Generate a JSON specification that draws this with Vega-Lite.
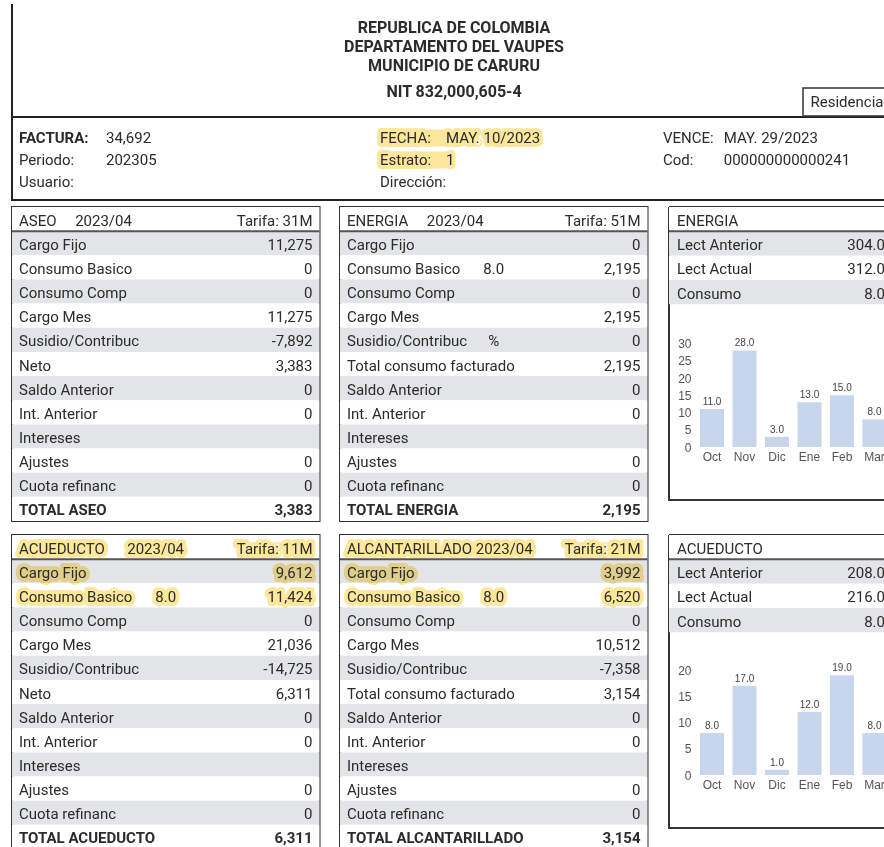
{
  "$schema": "https://vega.github.io/schema/vega-lite/v6.json",
  "padding": {"left": 10, "top": 3, "right": 0, "bottom": 0},
  "background": "white",
  "config": {
    "view": {"stroke": "#333333", "strokeWidth": 2},
    "text": {"font": "Roboto", "fontSize": 15, "color": "#2b2b2b", "baseline": "middle"},
    "axis": {"labelFont": "Liberation Sans Narrow, Liberation Sans, sans-serif"},
    "header": {"labels": false, "title": null},
    "headerColumn": {"labels": false, "title": null},
    "headerFacet": {"labels": false, "title": null},
    "locale": {"number": {"decimal": ".", "thousands": ",", "grouping": [3], "currency": ["$", ""], "minus": "-"}}
  },
  "datasets": {
    "encabezado": [
      {"parte": "titulo", "texto": "REPUBLICA DE COLOMBIA"},
      {"parte": "titulo", "texto": "DEPARTAMENTO DEL VAUPES"},
      {"parte": "titulo", "texto": "MUNICIPIO DE CARURU"},
      {"parte": "nit", "texto": "NIT 832,000,605-4"},
      {"parte": "tipo", "texto": "Residencia"}
    ],
    "datos_factura": [
      {"bloque": "A", "fila": 1, "etiqueta": "FACTURA:", "valor": "34,692"},
      {"bloque": "A", "fila": 2, "etiqueta": "Periodo:", "valor": "202305"},
      {"bloque": "A", "fila": 3, "etiqueta": "Usuario:", "valor": null},
      {"bloque": "B", "fila": 1, "etiqueta": "FECHA:", "valor": "MAY. 10/2023"},
      {"bloque": "B", "fila": 2, "etiqueta": "Estrato:", "valor": "1"},
      {"bloque": "B", "fila": 3, "etiqueta": "Dirección:", "valor": null},
      {"bloque": "C", "fila": 1, "etiqueta": "VENCE:", "valor": "MAY. 29/2023"},
      {"bloque": "C", "fila": 2, "etiqueta": "Cod:", "valor": "000000000000241"}
    ],
    "facturacion": [
      {"servicio": "ASEO", "linea": 0, "concepto": "ASEO\u00a0\u00a0\u00a0\u00a0\u00a02023/04", "tarifa": "Tarifa: 31M"},
      {"servicio": "ASEO", "linea": 1, "concepto": "Cargo Fijo", "valor": 11275},
      {"servicio": "ASEO", "linea": 2, "concepto": "Consumo Basico", "valor": 0},
      {"servicio": "ASEO", "linea": 3, "concepto": "Consumo Comp", "valor": 0},
      {"servicio": "ASEO", "linea": 4, "concepto": "Cargo Mes", "valor": 11275},
      {"servicio": "ASEO", "linea": 5, "concepto": "Susidio/Contribuc", "valor": -7892},
      {"servicio": "ASEO", "linea": 6, "concepto": "Neto", "valor": 3383},
      {"servicio": "ASEO", "linea": 7, "concepto": "Saldo Anterior", "valor": 0},
      {"servicio": "ASEO", "linea": 8, "concepto": "Int. Anterior", "valor": 0},
      {"servicio": "ASEO", "linea": 9, "concepto": "Intereses"},
      {"servicio": "ASEO", "linea": 10, "concepto": "Ajustes", "valor": 0},
      {"servicio": "ASEO", "linea": 11, "concepto": "Cuota refinanc", "valor": 0},
      {"servicio": "ASEO", "linea": 12, "concepto": "TOTAL ASEO", "valor": 3383},
      {"servicio": "ENERGIA", "linea": 0, "concepto": "ENERGIA\u00a0\u00a0\u00a0\u00a0\u00a02023/04", "tarifa": "Tarifa: 51M"},
      {"servicio": "ENERGIA", "linea": 1, "concepto": "Cargo Fijo", "valor": 0},
      {"servicio": "ENERGIA", "linea": 2, "concepto": "Consumo Basico", "cantidad": "8.0", "valor": 2195},
      {"servicio": "ENERGIA", "linea": 3, "concepto": "Consumo Comp", "valor": 0},
      {"servicio": "ENERGIA", "linea": 4, "concepto": "Cargo Mes", "valor": 2195},
      {"servicio": "ENERGIA", "linea": 5, "concepto": "Susidio/Contribuc", "cantidad": "%", "valor": 0},
      {"servicio": "ENERGIA", "linea": 6, "concepto": "Total consumo facturado", "valor": 2195},
      {"servicio": "ENERGIA", "linea": 7, "concepto": "Saldo Anterior", "valor": 0},
      {"servicio": "ENERGIA", "linea": 8, "concepto": "Int. Anterior", "valor": 0},
      {"servicio": "ENERGIA", "linea": 9, "concepto": "Intereses"},
      {"servicio": "ENERGIA", "linea": 10, "concepto": "Ajustes", "valor": 0},
      {"servicio": "ENERGIA", "linea": 11, "concepto": "Cuota refinanc", "valor": 0},
      {"servicio": "ENERGIA", "linea": 12, "concepto": "TOTAL ENERGIA", "valor": 2195},
      {"servicio": "ACUEDUCTO", "linea": 0, "concepto": "ACUEDUCTO\u00a0\u00a0\u00a0\u00a0\u00a0\u00a02023/04", "tarifa": "Tarifa: 11M"},
      {"servicio": "ACUEDUCTO", "linea": 1, "concepto": "Cargo Fijo", "valor": 9612},
      {"servicio": "ACUEDUCTO", "linea": 2, "concepto": "Consumo Basico", "cantidad": "8.0", "valor": 11424},
      {"servicio": "ACUEDUCTO", "linea": 3, "concepto": "Consumo Comp", "valor": 0},
      {"servicio": "ACUEDUCTO", "linea": 4, "concepto": "Cargo Mes", "valor": 21036},
      {"servicio": "ACUEDUCTO", "linea": 5, "concepto": "Susidio/Contribuc", "valor": -14725},
      {"servicio": "ACUEDUCTO", "linea": 6, "concepto": "Neto", "valor": 6311},
      {"servicio": "ACUEDUCTO", "linea": 7, "concepto": "Saldo Anterior", "valor": 0},
      {"servicio": "ACUEDUCTO", "linea": 8, "concepto": "Int. Anterior", "valor": 0},
      {"servicio": "ACUEDUCTO", "linea": 9, "concepto": "Intereses"},
      {"servicio": "ACUEDUCTO", "linea": 10, "concepto": "Ajustes", "valor": 0},
      {"servicio": "ACUEDUCTO", "linea": 11, "concepto": "Cuota refinanc", "valor": 0},
      {"servicio": "ACUEDUCTO", "linea": 12, "concepto": "TOTAL ACUEDUCTO", "valor": 6311},
      {"servicio": "ALCANTARILLADO", "linea": 0, "concepto": "ALCANTARILLADO 2023/04", "tarifa": "Tarifa: 21M"},
      {"servicio": "ALCANTARILLADO", "linea": 1, "concepto": "Cargo Fijo", "valor": 3992},
      {"servicio": "ALCANTARILLADO", "linea": 2, "concepto": "Consumo Basico", "cantidad": "8.0", "valor": 6520},
      {"servicio": "ALCANTARILLADO", "linea": 3, "concepto": "Consumo Comp", "valor": 0},
      {"servicio": "ALCANTARILLADO", "linea": 4, "concepto": "Cargo Mes", "valor": 10512},
      {"servicio": "ALCANTARILLADO", "linea": 5, "concepto": "Susidio/Contribuc", "valor": -7358},
      {"servicio": "ALCANTARILLADO", "linea": 6, "concepto": "Total consumo facturado", "valor": 3154},
      {"servicio": "ALCANTARILLADO", "linea": 7, "concepto": "Saldo Anterior", "valor": 0},
      {"servicio": "ALCANTARILLADO", "linea": 8, "concepto": "Int. Anterior", "valor": 0},
      {"servicio": "ALCANTARILLADO", "linea": 9, "concepto": "Intereses"},
      {"servicio": "ALCANTARILLADO", "linea": 10, "concepto": "Ajustes", "valor": 0},
      {"servicio": "ALCANTARILLADO", "linea": 11, "concepto": "Cuota refinanc", "valor": 0},
      {"servicio": "ALCANTARILLADO", "linea": 12, "concepto": "TOTAL ALCANTARILLADO", "valor": 3154}
    ],
    "lecturas": [
      {"servicio": "ENERGIA", "linea": 0, "concepto": "ENERGIA"},
      {"servicio": "ENERGIA", "linea": 1, "concepto": "Lect Anterior", "valor": 304},
      {"servicio": "ENERGIA", "linea": 2, "concepto": "Lect Actual", "valor": 312},
      {"servicio": "ENERGIA", "linea": 3, "concepto": "Consumo", "valor": 8},
      {"servicio": "ACUEDUCTO", "linea": 0, "concepto": "ACUEDUCTO"},
      {"servicio": "ACUEDUCTO", "linea": 1, "concepto": "Lect Anterior", "valor": 208},
      {"servicio": "ACUEDUCTO", "linea": 2, "concepto": "Lect Actual", "valor": 216},
      {"servicio": "ACUEDUCTO", "linea": 3, "concepto": "Consumo", "valor": 8}
    ],
    "historico": [
      {"servicio": "ENERGIA", "mes": "Oct", "consumo": 11},
      {"servicio": "ENERGIA", "mes": "Nov", "consumo": 28},
      {"servicio": "ENERGIA", "mes": "Dic", "consumo": 3},
      {"servicio": "ENERGIA", "mes": "Ene", "consumo": 13},
      {"servicio": "ENERGIA", "mes": "Feb", "consumo": 15},
      {"servicio": "ENERGIA", "mes": "Mar", "consumo": 8},
      {"servicio": "ACUEDUCTO", "mes": "Oct", "consumo": 8},
      {"servicio": "ACUEDUCTO", "mes": "Nov", "consumo": 17},
      {"servicio": "ACUEDUCTO", "mes": "Dic", "consumo": 1},
      {"servicio": "ACUEDUCTO", "mes": "Ene", "consumo": 12},
      {"servicio": "ACUEDUCTO", "mes": "Feb", "consumo": 19},
      {"servicio": "ACUEDUCTO", "mes": "Mar", "consumo": 8}
    ]
  },
  "bounds": "full",
  "spacing": 5,
  "vconcat": [
    {
      "bounds": "flush",
      "spacing": 0,
      "vconcat": [
        {
          "width": 873,
          "height": 113,
          "view": {"stroke": "#222222", "strokeWidth": 2, "strokeDash": [0, 986, 986, 0]},
          "data": {"name": "encabezado"},
          "resolve": {"scale": {"x": "independent", "y": "independent"}},
          "layer": [
            {
              "transform": [{"filter": "datum.parte == 'titulo'"}],
              "mark": {"type": "text", "fontWeight": "bold", "align": "center", "fontSize": 16},
              "encoding": {
                "x": {"field": "parte", "type": "nominal", "scale": {"type": "band", "range": [0, 884]}, "axis": null},
                "y": {"field": "texto", "type": "nominal", "sort": null, "scale": {"type": "point", "range": [24.3, 62.3], "padding": 0}, "axis": null},
                "text": {"field": "texto"}
              }
            },
            {
              "transform": [{"filter": "datum.parte == 'nit'"}],
              "mark": {"type": "text", "fontWeight": "bold", "align": "center", "fontSize": 16},
              "encoding": {
                "x": {"field": "parte", "type": "nominal", "scale": {"type": "band", "range": [0, 884]}, "axis": null},
                "y": {"field": "parte", "type": "nominal", "scale": {"type": "band", "range": [76.3, 100.3], "paddingInner": 0, "paddingOuter": 0}, "axis": null},
                "text": {"field": "texto"}
              }
            },
            {
              "transform": [{"filter": "datum.parte == 'tipo'"}],
              "mark": {"type": "rect", "fillOpacity": 0, "stroke": "#333333", "strokeWidth": 1.5, "clip": true},
              "encoding": {
                "x": {"field": "parte", "type": "nominal", "scale": {"type": "band", "range": [791, 879], "paddingInner": 0, "paddingOuter": 0}, "axis": null},
                "y": {"field": "parte", "type": "nominal", "scale": {"type": "band", "range": [84, 112], "paddingInner": 0, "paddingOuter": 0}, "axis": null}
              }
            },
            {
              "transform": [{"filter": "datum.parte == 'tipo'"}],
              "mark": {"type": "text", "align": "center", "clip": true},
              "encoding": {
                "x": {"field": "parte", "type": "nominal", "scale": {"type": "band", "range": [791, 879], "paddingInner": 0, "paddingOuter": 0}, "axis": null},
                "y": {"field": "parte", "type": "nominal", "scale": {"type": "band", "range": [84, 112], "paddingInner": 0, "paddingOuter": 0}, "axis": null},
                "text": {"field": "texto"}
              }
            }
          ]
        },
        {
          "bounds": "flush",
          "spacing": 0,
          "hconcat": [
            {
              "width": 361,
              "height": 83,
              "view": {"stroke": "#222222", "strokeWidth": 2, "strokeDash": [0, 444, 444, 0]},
              "data": {"name": "datos_factura"},
              "transform": [{"filter": "datum.bloque == 'A'"}],
              "encoding": {
                "y": {"field": "fila", "type": "ordinal", "scale": {"type": "point", "domain": [1, 2, 3], "range": [21, 65], "padding": 0}, "axis": null}
              },
              "layer": [
                {
                  "transform": [{"filter": "datum.etiqueta == 'FACTURA:'"}],
                  "mark": {"type": "text", "align": "left", "fontWeight": "bold"},
                  "encoding": {
                    "x": {"datum": "etiqueta", "type": "nominal", "scale": {"type": "point", "domain": ["etiqueta", "valor"], "range": [7, 94], "padding": 0}, "axis": null},
                    "text": {"field": "etiqueta"}
                  }
                },
                {
                  "transform": [{"filter": "datum.etiqueta != 'FACTURA:'"}],
                  "mark": {"type": "text", "align": "left"},
                  "encoding": {
                    "x": {"datum": "etiqueta", "type": "nominal", "scale": {"type": "point", "domain": ["etiqueta", "valor"], "range": [7, 94], "padding": 0}, "axis": null},
                    "text": {"field": "etiqueta"}
                  }
                },
                {
                  "transform": [{"filter": "isValid(datum.valor)"}],
                  "mark": {"type": "text", "align": "left"},
                  "encoding": {
                    "x": {"datum": "valor", "type": "nominal", "scale": {"type": "point", "domain": ["etiqueta", "valor"], "range": [7, 94], "padding": 0}, "axis": null},
                    "text": {"field": "valor"}
                  }
                }
              ]
            },
            {
              "width": 283,
              "height": 83,
              "view": {"stroke": "#222222", "strokeWidth": 2, "strokeDash": [0, 366, 283, 83]},
              "data": {"name": "datos_factura"},
              "transform": [{"filter": "datum.bloque == 'B'"}],
              "encoding": {
                "y": {"field": "fila", "type": "ordinal", "scale": {"type": "point", "domain": [1, 2, 3], "range": [21, 65], "padding": 0}, "axis": null}
              },
              "layer": [
                {
                  "transform": [{"filter": "isValid(datum.valor)"}],
                  "mark": {"type": "rule", "color": "#fbe69c", "strokeWidth": 17, "strokeCap": "butt"},
                  "encoding": {
                    "x": {"datum": "etiqueta", "type": "nominal", "scale": {"type": "point", "domain": ["etiqueta", "valor"], "range": [7, 73], "padding": 0}, "axis": null},
                    "x2": {"datum": "valor"}
                  }
                },
                {
                  "transform": [{"filter": "isValid(datum.valor)"}],
                  "mark": {"type": "text", "align": "left", "fill": "#fbe69c", "stroke": "#fbe69c", "strokeWidth": 8, "strokeJoin": "round", "strokeCap": "round"},
                  "encoding": {
                    "x": {"datum": "etiqueta", "type": "nominal", "scale": {"type": "point", "domain": ["etiqueta", "valor"], "range": [7, 73], "padding": 0}, "axis": null},
                    "text": {"field": "etiqueta"}
                  }
                },
                {
                  "transform": [{"filter": "isValid(datum.valor)"}],
                  "mark": {"type": "text", "align": "left", "fill": "#fbe69c", "stroke": "#fbe69c", "strokeWidth": 8, "strokeJoin": "round", "strokeCap": "round"},
                  "encoding": {
                    "x": {"datum": "valor", "type": "nominal", "scale": {"type": "point", "domain": ["etiqueta", "valor"], "range": [7, 73], "padding": 0}, "axis": null},
                    "text": {"field": "valor"}
                  }
                },
                {
                  "mark": {"type": "text", "align": "left"},
                  "encoding": {
                    "x": {"datum": "etiqueta", "type": "nominal", "scale": {"type": "point", "domain": ["etiqueta", "valor"], "range": [7, 73], "padding": 0}, "axis": null},
                    "text": {"field": "etiqueta"}
                  }
                },
                {
                  "transform": [{"filter": "isValid(datum.valor)"}],
                  "mark": {"type": "text", "align": "left"},
                  "encoding": {
                    "x": {"datum": "valor", "type": "nominal", "scale": {"type": "point", "domain": ["etiqueta", "valor"], "range": [7, 73], "padding": 0}, "axis": null},
                    "text": {"field": "valor"}
                  }
                }
              ]
            },
            {
              "width": 229,
              "height": 83,
              "view": {"stroke": "#222222", "strokeWidth": 2, "strokeDash": [0, 312, 229, 83]},
              "data": {"name": "datos_factura"},
              "transform": [{"filter": "datum.bloque == 'C'"}],
              "encoding": {
                "y": {"field": "fila", "type": "ordinal", "scale": {"type": "point", "domain": [1, 2, 3], "range": [21, 65], "padding": 0}, "axis": null}
              },
              "layer": [
                {
                  "mark": {"type": "text", "align": "left"},
                  "encoding": {
                    "x": {"datum": "etiqueta", "type": "nominal", "scale": {"type": "point", "domain": ["etiqueta", "valor"], "range": [7, 67.7], "padding": 0}, "axis": null},
                    "text": {"field": "etiqueta"}
                  }
                },
                {
                  "transform": [{"filter": "isValid(datum.valor)"}],
                  "mark": {"type": "text", "align": "left"},
                  "encoding": {
                    "x": {"datum": "valor", "type": "nominal", "scale": {"type": "point", "domain": ["etiqueta", "valor"], "range": [7, 67.7], "padding": 0}, "axis": null},
                    "text": {"field": "valor"}
                  }
                }
              ]
            }
          ]
        }
      ]
    },
    {
      "bounds": "full",
      "spacing": 18,
      "hconcat": [
        {
          "bounds": "full",
          "spacing": 12,
          "vconcat": [
            {
              "data": {"name": "facturacion"},
              "transform": [{"filter": "datum.servicio == 'ASEO' || datum.servicio == 'ENERGIA'"}],
              "facet": {"column": {"field": "servicio", "type": "nominal", "sort": ["ASEO", "ENERGIA"], "header": null}},
              "spacing": {"column": 20},
              "bounds": "flush",
              "spec": {
                "width": 307.5,
                "height": 314,
                "encoding": {
                  "y": {"field": "linea", "type": "ordinal", "scale": {"type": "band", "domain": [0, 1, 2, 3, 4, 5, 6, 7, 8, 9, 10, 11, 12], "paddingInner": 0, "paddingOuter": 0}, "axis": null}
                },
                "layer": [
                  {
                    "mark": {"type": "rect"},
                    "encoding": {"fill": {"condition": {"test": "datum.linea % 2 == 1", "value": "#e3e4e6"}, "value": "#ffffff"}}
                  },
                  {
                    "transform": [{"filter": "datum.linea == 0"}],
                    "mark": {"type": "rule", "color": "#555555", "strokeWidth": 2},
                    "encoding": {"y": {"field": "linea", "type": "ordinal", "bandPosition": 1, "scale": {"type": "band", "domain": [0, 1, 2, 3, 4, 5, 6, 7, 8, 9, 10, 11, 12], "paddingInner": 0, "paddingOuter": 0}, "axis": null}}
                  },
                  {
                    "transform": [{"filter": "datum.linea < 12"}],
                    "mark": {"type": "text", "align": "left", "dy": 1.5},
                    "encoding": {
                      "x": {"datum": "concepto", "type": "nominal", "scale": {"type": "point", "domain": ["concepto", "cantidad", "valor"], "range": [7, 300.5], "padding": 0}, "axis": null},
                      "text": {"field": "concepto"}
                    }
                  },
                  {
                    "transform": [{"filter": "datum.linea == 12"}],
                    "mark": {"type": "text", "align": "left", "dy": 1.5, "fontWeight": "bold"},
                    "encoding": {
                      "x": {"datum": "concepto", "type": "nominal", "scale": {"type": "point", "domain": ["concepto", "cantidad", "valor"], "range": [7, 300.5], "padding": 0}, "axis": null},
                      "text": {"field": "concepto"}
                    }
                  },
                  {
                    "transform": [{"filter": "isValid(datum.cantidad)"}],
                    "mark": {"type": "text", "align": "center", "dy": 1.5},
                    "encoding": {
                      "x": {"datum": "cantidad", "type": "nominal", "scale": {"type": "point", "domain": ["concepto", "cantidad", "valor"], "range": [7, 300.5], "padding": 0}, "axis": null},
                      "text": {"field": "cantidad"}
                    }
                  },
                  {
                    "transform": [{"filter": "isValid(datum.valor) && datum.linea < 12"}],
                    "mark": {"type": "text", "align": "right", "dy": 1.5},
                    "encoding": {
                      "x": {"datum": "valor", "type": "nominal", "scale": {"type": "point", "domain": ["concepto", "cantidad", "valor"], "range": [7, 300.5], "padding": 0}, "axis": null},
                      "text": {"field": "valor", "type": "quantitative", "format": ","}
                    }
                  },
                  {
                    "transform": [{"filter": "isValid(datum.valor) && datum.linea == 12"}],
                    "mark": {"type": "text", "align": "right", "dy": 1.5, "fontWeight": "bold"},
                    "encoding": {
                      "x": {"datum": "valor", "type": "nominal", "scale": {"type": "point", "domain": ["concepto", "cantidad", "valor"], "range": [7, 300.5], "padding": 0}, "axis": null},
                      "text": {"field": "valor", "type": "quantitative", "format": ","}
                    }
                  },
                  {
                    "transform": [{"filter": "isValid(datum.tarifa)"}],
                    "mark": {"type": "text", "align": "right", "dy": 1.5},
                    "encoding": {
                      "x": {"datum": "valor", "type": "nominal", "scale": {"type": "point", "domain": ["concepto", "cantidad", "valor"], "range": [7, 300.5], "padding": 0}, "axis": null},
                      "text": {"field": "tarifa"}
                    }
                  }
                ]
              }
            },
            {
              "data": {"name": "facturacion"},
              "transform": [{"filter": "datum.servicio == 'ACUEDUCTO' || datum.servicio == 'ALCANTARILLADO'"}],
              "facet": {"column": {"field": "servicio", "type": "nominal", "sort": ["ACUEDUCTO", "ALCANTARILLADO"], "header": null}},
              "spacing": {"column": 20},
              "bounds": "flush",
              "spec": {
                "width": 307.5,
                "height": 314,
                "encoding": {
                  "y": {"field": "linea", "type": "ordinal", "scale": {"type": "band", "domain": [0, 1, 2, 3, 4, 5, 6, 7, 8, 9, 10, 11, 12], "paddingInner": 0, "paddingOuter": 0}, "axis": null}
                },
                "layer": [
                  {
                    "mark": {"type": "rect"},
                    "encoding": {"fill": {"condition": {"test": "datum.linea % 2 == 1", "value": "#e3e4e6"}, "value": "#ffffff"}}
                  },
                  {
                    "transform": [{"filter": "datum.linea == 0"}],
                    "mark": {"type": "rule", "color": "#555555", "strokeWidth": 2},
                    "encoding": {"y": {"field": "linea", "type": "ordinal", "bandPosition": 1, "scale": {"type": "band", "domain": [0, 1, 2, 3, 4, 5, 6, 7, 8, 9, 10, 11, 12], "paddingInner": 0, "paddingOuter": 0}, "axis": null}}
                  },
                  {
                    "transform": [{"filter": "datum.linea <= 2"}],
                    "mark": {"type": "text", "align": "left", "dy": 1.5, "fill": "#fce79a", "stroke": "#fce79a", "strokeWidth": 8, "strokeJoin": "round", "strokeCap": "round", "blend": "multiply"},
                    "encoding": {
                      "x": {"datum": "concepto", "type": "nominal", "scale": {"type": "point", "domain": ["concepto", "cantidad", "valor"], "range": [7, 300.5], "padding": 0}, "axis": null},
                      "text": {"field": "concepto"}
                    }
                  },
                  {
                    "transform": [{"filter": "datum.linea <= 2 && isValid(datum.cantidad)"}],
                    "mark": {"type": "text", "align": "center", "dy": 1.5, "fill": "#fce79a", "stroke": "#fce79a", "strokeWidth": 8, "strokeJoin": "round", "strokeCap": "round", "blend": "multiply"},
                    "encoding": {
                      "x": {"datum": "cantidad", "type": "nominal", "scale": {"type": "point", "domain": ["concepto", "cantidad", "valor"], "range": [7, 300.5], "padding": 0}, "axis": null},
                      "text": {"field": "cantidad"}
                    }
                  },
                  {
                    "transform": [{"filter": "datum.linea <= 2 && isValid(datum.valor)"}],
                    "mark": {"type": "text", "align": "right", "dy": 1.5, "fill": "#fce79a", "stroke": "#fce79a", "strokeWidth": 8, "strokeJoin": "round", "strokeCap": "round", "blend": "multiply"},
                    "encoding": {
                      "x": {"datum": "valor", "type": "nominal", "scale": {"type": "point", "domain": ["concepto", "cantidad", "valor"], "range": [7, 300.5], "padding": 0}, "axis": null},
                      "text": {"field": "valor", "type": "quantitative", "format": ","}
                    }
                  },
                  {
                    "transform": [{"filter": "isValid(datum.tarifa)"}],
                    "mark": {"type": "text", "align": "right", "dy": 1.5, "fill": "#fce79a", "stroke": "#fce79a", "strokeWidth": 8, "strokeJoin": "round", "strokeCap": "round", "blend": "multiply"},
                    "encoding": {
                      "x": {"datum": "valor", "type": "nominal", "scale": {"type": "point", "domain": ["concepto", "cantidad", "valor"], "range": [7, 300.5], "padding": 0}, "axis": null},
                      "text": {"field": "tarifa"}
                    }
                  },
                  {
                    "transform": [{"filter": "datum.linea < 12"}],
                    "mark": {"type": "text", "align": "left", "dy": 1.5},
                    "encoding": {
                      "x": {"datum": "concepto", "type": "nominal", "scale": {"type": "point", "domain": ["concepto", "cantidad", "valor"], "range": [7, 300.5], "padding": 0}, "axis": null},
                      "text": {"field": "concepto"}
                    }
                  },
                  {
                    "transform": [{"filter": "datum.linea == 12"}],
                    "mark": {"type": "text", "align": "left", "dy": 1.5, "fontWeight": "bold"},
                    "encoding": {
                      "x": {"datum": "concepto", "type": "nominal", "scale": {"type": "point", "domain": ["concepto", "cantidad", "valor"], "range": [7, 300.5], "padding": 0}, "axis": null},
                      "text": {"field": "concepto"}
                    }
                  },
                  {
                    "transform": [{"filter": "isValid(datum.cantidad)"}],
                    "mark": {"type": "text", "align": "center", "dy": 1.5},
                    "encoding": {
                      "x": {"datum": "cantidad", "type": "nominal", "scale": {"type": "point", "domain": ["concepto", "cantidad", "valor"], "range": [7, 300.5], "padding": 0}, "axis": null},
                      "text": {"field": "cantidad"}
                    }
                  },
                  {
                    "transform": [{"filter": "isValid(datum.valor) && datum.linea < 12"}],
                    "mark": {"type": "text", "align": "right", "dy": 1.5},
                    "encoding": {
                      "x": {"datum": "valor", "type": "nominal", "scale": {"type": "point", "domain": ["concepto", "cantidad", "valor"], "range": [7, 300.5], "padding": 0}, "axis": null},
                      "text": {"field": "valor", "type": "quantitative", "format": ","}
                    }
                  },
                  {
                    "transform": [{"filter": "isValid(datum.valor) && datum.linea == 12"}],
                    "mark": {"type": "text", "align": "right", "dy": 1.5, "fontWeight": "bold"},
                    "encoding": {
                      "x": {"datum": "valor", "type": "nominal", "scale": {"type": "point", "domain": ["concepto", "cantidad", "valor"], "range": [7, 300.5], "padding": 0}, "axis": null},
                      "text": {"field": "valor", "type": "quantitative", "format": ","}
                    }
                  },
                  {
                    "transform": [{"filter": "isValid(datum.tarifa)"}],
                    "mark": {"type": "text", "align": "right", "dy": 1.5},
                    "encoding": {
                      "x": {"datum": "valor", "type": "nominal", "scale": {"type": "point", "domain": ["concepto", "cantidad", "valor"], "range": [7, 300.5], "padding": 0}, "axis": null},
                      "text": {"field": "tarifa"}
                    }
                  }
                ]
              }
            }
          ]
        },
        {
          "bounds": "flush",
          "spacing": 35,
          "vconcat": [
            {
              "width": 218,
              "height": 293,
              "view": {"stroke": "#333333", "strokeWidth": 2, "strokeDash": [218, 293, 511, 0]},
              "resolve": {"scale": {"x": "independent", "y": "independent"}},
              "layer": [
                {
                  "data": {"name": "lecturas"},
                  "transform": [{"filter": "datum.servicio == 'ENERGIA'"}],
                  "mark": {"type": "rect", "clip": true},
                  "encoding": {
                    "y": {"field": "linea", "type": "ordinal", "scale": {"type": "band", "domain": [0, 1, 2, 3], "range": [0, 97.3], "paddingInner": 0, "paddingOuter": 0}, "axis": null},
                    "fill": {"condition": {"test": "datum.linea % 2 == 1", "value": "#e3e4e6"}, "value": "#ffffff"}
                  }
                },
                {
                  "data": {"name": "lecturas"},
                  "transform": [{"filter": "datum.servicio == 'ENERGIA' && datum.linea == 0"}],
                  "mark": {"type": "rule", "color": "#555555", "strokeWidth": 2, "clip": true},
                  "encoding": {
                    "y": {"field": "linea", "type": "ordinal", "bandPosition": 1, "scale": {"type": "band", "domain": [0, 1, 2, 3], "range": [0, 97.3], "paddingInner": 0, "paddingOuter": 0}, "axis": null}
                  }
                },
                {
                  "data": {"name": "lecturas"},
                  "transform": [{"filter": "datum.servicio == 'ENERGIA'"}],
                  "mark": {"type": "text", "align": "left", "dy": 1.5},
                  "encoding": {
                    "x": {"datum": "etiqueta", "type": "nominal", "scale": {"type": "point", "domain": ["etiqueta", "valor"], "range": [8, 216], "padding": 0}, "axis": null},
                    "y": {"field": "linea", "type": "ordinal", "scale": {"type": "band", "domain": [0, 1, 2, 3], "range": [0, 97.3], "paddingInner": 0, "paddingOuter": 0}, "axis": null},
                    "text": {"field": "concepto"}
                  }
                },
                {
                  "data": {"name": "lecturas"},
                  "transform": [{"filter": "datum.servicio == 'ENERGIA' && isValid(datum.valor)"}],
                  "mark": {"type": "text", "align": "right", "dy": 1.5, "clip": true},
                  "encoding": {
                    "x": {"datum": "valor", "type": "nominal", "scale": {"type": "point", "domain": ["etiqueta", "valor"], "range": [8, 216], "padding": 0}, "axis": null},
                    "y": {"field": "linea", "type": "ordinal", "scale": {"type": "band", "domain": [0, 1, 2, 3], "range": [0, 97.3], "paddingInner": 0, "paddingOuter": 0}, "axis": null},
                    "text": {"field": "valor", "type": "quantitative", "format": ".1f"}
                  }
                },
                {
                  "data": {"name": "historico"},
                  "transform": [{"filter": "datum.servicio == 'ENERGIA'"}],
                  "mark": {"type": "bar", "color": "#c8d6ed", "clip": true},
                  "encoding": {
                    "x": {"field": "mes", "type": "nominal", "sort": null, "scale": {"type": "band", "domain": ["Oct", "Nov", "Dic", "Ene", "Feb", "Mar"], "range": [26.75, 221.75], "paddingInner": 0.26, "paddingOuter": 0.13}, "axis": {"orient": "bottom", "labelAngle": 0, "offset": -53, "domain": false, "ticks": false, "grid": false, "labelPadding": 4, "labelFontSize": 12, "labelColor": "#555555", "title": null}},
                    "y": {"field": "consumo", "type": "quantitative", "scale": {"domain": [0, 30], "range": [240, 136.5], "nice": false}, "axis": {"orient": "left", "values": [0, 5, 10, 15, 20, 25, 30], "offset": -24, "domain": false, "ticks": false, "grid": false, "labelPadding": 2, "labelFontSize": 12, "labelColor": "#555555", "title": null}}
                  }
                },
                {
                  "data": {"name": "historico"},
                  "transform": [{"filter": "datum.servicio == 'ENERGIA'"}],
                  "mark": {"type": "text", "baseline": "bottom", "dy": -2, "fontSize": 10, "font": "Liberation Sans Narrow, Liberation Sans, sans-serif", "color": "#444444"},
                  "encoding": {
                    "x": {"field": "mes", "type": "nominal", "sort": null, "scale": {"type": "band", "domain": ["Oct", "Nov", "Dic", "Ene", "Feb", "Mar"], "range": [26.75, 221.75], "paddingInner": 0.26, "paddingOuter": 0.13}, "axis": null},
                    "y": {"field": "consumo", "type": "quantitative", "scale": {"domain": [0, 30], "range": [240, 136.5], "nice": false}, "axis": null},
                    "text": {"field": "consumo", "type": "quantitative", "format": ".1f"}
                  }
                }
              ]
            },
            {
              "width": 218,
              "height": 293,
              "view": {"stroke": "#333333", "strokeWidth": 2, "strokeDash": [218, 293, 511, 0]},
              "resolve": {"scale": {"x": "independent", "y": "independent"}},
              "layer": [
                {
                  "data": {"name": "lecturas"},
                  "transform": [{"filter": "datum.servicio == 'ACUEDUCTO'"}],
                  "mark": {"type": "rect", "clip": true},
                  "encoding": {
                    "y": {"field": "linea", "type": "ordinal", "scale": {"type": "band", "domain": [0, 1, 2, 3], "range": [0, 97.3], "paddingInner": 0, "paddingOuter": 0}, "axis": null},
                    "fill": {"condition": {"test": "datum.linea % 2 == 1", "value": "#e3e4e6"}, "value": "#ffffff"}
                  }
                },
                {
                  "data": {"name": "lecturas"},
                  "transform": [{"filter": "datum.servicio == 'ACUEDUCTO' && datum.linea == 0"}],
                  "mark": {"type": "rule", "color": "#555555", "strokeWidth": 2, "clip": true},
                  "encoding": {
                    "y": {"field": "linea", "type": "ordinal", "bandPosition": 1, "scale": {"type": "band", "domain": [0, 1, 2, 3], "range": [0, 97.3], "paddingInner": 0, "paddingOuter": 0}, "axis": null}
                  }
                },
                {
                  "data": {"name": "lecturas"},
                  "transform": [{"filter": "datum.servicio == 'ACUEDUCTO'"}],
                  "mark": {"type": "text", "align": "left", "dy": 1.5},
                  "encoding": {
                    "x": {"datum": "etiqueta", "type": "nominal", "scale": {"type": "point", "domain": ["etiqueta", "valor"], "range": [8, 216], "padding": 0}, "axis": null},
                    "y": {"field": "linea", "type": "ordinal", "scale": {"type": "band", "domain": [0, 1, 2, 3], "range": [0, 97.3], "paddingInner": 0, "paddingOuter": 0}, "axis": null},
                    "text": {"field": "concepto"}
                  }
                },
                {
                  "data": {"name": "lecturas"},
                  "transform": [{"filter": "datum.servicio == 'ACUEDUCTO' && isValid(datum.valor)"}],
                  "mark": {"type": "text", "align": "right", "dy": 1.5, "clip": true},
                  "encoding": {
                    "x": {"datum": "valor", "type": "nominal", "scale": {"type": "point", "domain": ["etiqueta", "valor"], "range": [8, 216], "padding": 0}, "axis": null},
                    "y": {"field": "linea", "type": "ordinal", "scale": {"type": "band", "domain": [0, 1, 2, 3], "range": [0, 97.3], "paddingInner": 0, "paddingOuter": 0}, "axis": null},
                    "text": {"field": "valor", "type": "quantitative", "format": ".1f"}
                  }
                },
                {
                  "data": {"name": "historico"},
                  "transform": [{"filter": "datum.servicio == 'ACUEDUCTO'"}],
                  "mark": {"type": "bar", "color": "#c8d6ed", "clip": true},
                  "encoding": {
                    "x": {"field": "mes", "type": "nominal", "sort": null, "scale": {"type": "band", "domain": ["Oct", "Nov", "Dic", "Ene", "Feb", "Mar"], "range": [26.75, 221.75], "paddingInner": 0.26, "paddingOuter": 0.13}, "axis": {"orient": "bottom", "labelAngle": 0, "offset": -53, "domain": false, "ticks": false, "grid": false, "labelPadding": 4, "labelFontSize": 12, "labelColor": "#555555", "title": null}},
                    "y": {"field": "consumo", "type": "quantitative", "scale": {"domain": [0, 20], "range": [240, 135], "nice": false}, "axis": {"orient": "left", "values": [0, 5, 10, 15, 20], "offset": -24, "domain": false, "ticks": false, "grid": false, "labelPadding": 2, "labelFontSize": 12, "labelColor": "#555555", "title": null}}
                  }
                },
                {
                  "data": {"name": "historico"},
                  "transform": [{"filter": "datum.servicio == 'ACUEDUCTO'"}],
                  "mark": {"type": "text", "baseline": "bottom", "dy": -2, "fontSize": 10, "font": "Liberation Sans Narrow, Liberation Sans, sans-serif", "color": "#444444"},
                  "encoding": {
                    "x": {"field": "mes", "type": "nominal", "sort": null, "scale": {"type": "band", "domain": ["Oct", "Nov", "Dic", "Ene", "Feb", "Mar"], "range": [26.75, 221.75], "paddingInner": 0.26, "paddingOuter": 0.13}, "axis": null},
                    "y": {"field": "consumo", "type": "quantitative", "scale": {"domain": [0, 20], "range": [240, 135], "nice": false}, "axis": null},
                    "text": {"field": "consumo", "type": "quantitative", "format": ".1f"}
                  }
                }
              ]
            }
          ]
        }
      ]
    }
  ]
}
